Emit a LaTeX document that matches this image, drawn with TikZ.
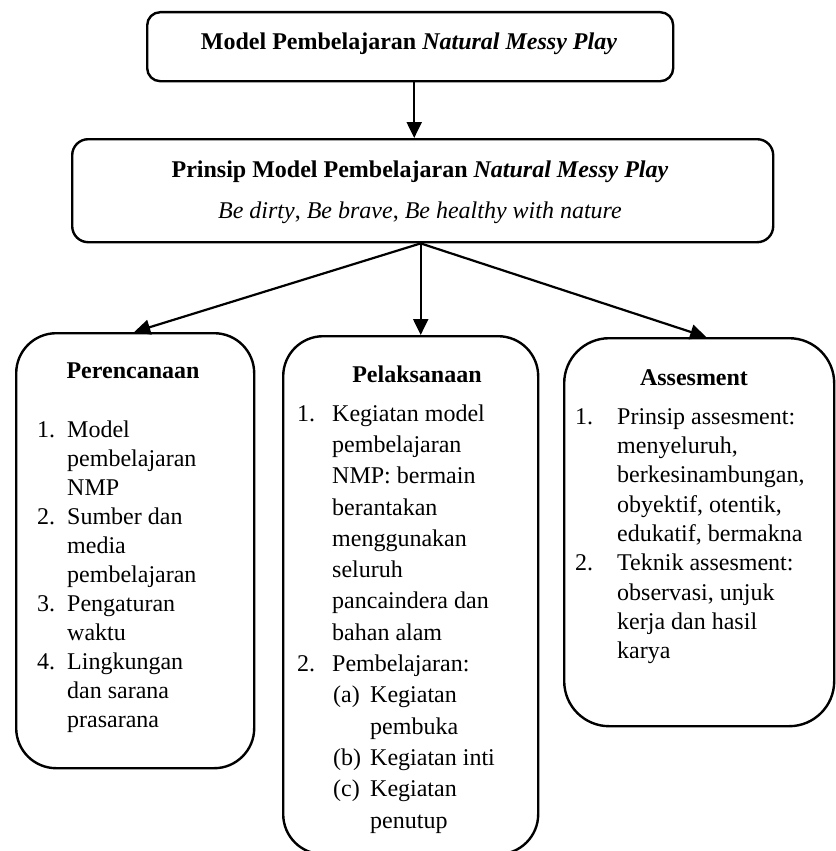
\documentclass[tikz,border=0pt]{standalone}
\usepackage{fontspec}
\setmainfont{Liberation Serif}
\usetikzlibrary{arrows.meta,calc}
\begin{document}
\begin{tikzpicture}[x=1pt,y=-1pt]
\tikzset{
  boxframe/.style={draw, line width=2.4pt, rounded corners=#1, inner sep=0pt, anchor=north west},
  arr/.style={line width=2.2pt, -{Triangle[length=16pt,width=15pt]}},
  txt/.style={inner sep=0pt, font=\fontsize{24}{29.3}\selectfont},
  ttl/.style={inner sep=0pt, anchor=base, font=\fontsize{24}{29.3}\selectfont\bfseries},
  lst/.style={inner sep=0pt, align=left, anchor=north west, font=\fontsize{24}{#1}\selectfont},
}
\useasboundingbox (0,0) rectangle (835,851);

% boxes
\node[boxframe=13pt, minimum width=526pt, minimum height=69pt] (top) at (146,11) {};
\node[boxframe=16pt, minimum width=701pt, minimum height=103pt] (prin) at (71,138) {};
\node[boxframe=40pt, minimum width=238pt, minimum height=435pt] (per) at (15,332) {};
\node[boxframe=40pt, minimum width=255pt, minimum height=518pt] (pel) at (282,335) {};
\node[boxframe=45pt, minimum width=270pt, minimum height=388pt] (ass) at (563,337) {};

% texts
\node[ttl] (toptext) at (409,50) {Model Pembelajaran \textit{Natural Messy Play}};
\node[ttl] (printitle) at (420,177) {Prinsip Model Pembelajaran \textit{Natural Messy Play}};
\node[txt, anchor=base] (motto) at (420,218) {\textit{Be dirty}, \textit{Be brave}, \textit{Be healthy with nature}};

\node[ttl] (pertitle) at (133,378) {Perencanaan};
\node[ttl] (peltitle) at (417,382) {Pelaksanaan};
\node[ttl] (asstitle) at (694,385) {Assesment};

\node[lst=29] (perlist) at (37,416.5) {\strut\makebox[30pt][l]{1.}Model\\
\hspace*{30pt}pembelajaran\\
\hspace*{30pt}NMP\\
\makebox[30pt][l]{2.}Sumber dan\\
\hspace*{30pt}media\\
\hspace*{30pt}pembelajaran\\
\makebox[30pt][l]{3.}Pengaturan\\
\hspace*{30pt}waktu\\
\makebox[30pt][l]{4.}Lingkungan\\
\hspace*{30pt}dan sarana\\
\hspace*{30pt}prasarana};

\node[lst=31.3] (pellist) at (297,399) {\strut\makebox[35pt][l]{1.}Kegiatan model\\
\hspace*{35pt}pembelajaran\\
\hspace*{35pt}NMP: bermain\\
\hspace*{35pt}berantakan\\
\hspace*{35pt}menggunakan\\
\hspace*{35pt}seluruh\\
\hspace*{35pt}pancaindera dan\\
\hspace*{35pt}bahan alam\\
\makebox[35pt][l]{2.}Pembelajaran:\\
\hspace*{36pt}\makebox[37pt][l]{(a)}Kegiatan\\
\hspace*{73pt}pembuka\\
\hspace*{36pt}\makebox[37pt][l]{(b)}Kegiatan inti\\
\hspace*{36pt}\makebox[37pt][l]{(c)}Kegiatan\\
\hspace*{73pt}penutup};

\node[lst=29.3] (asslist) at (575,403.5) {\strut\makebox[42pt][l]{1.}Prinsip assesment:\\
\hspace*{42pt}menyeluruh,\\
\hspace*{42pt}berkesinambungan,\\
\hspace*{42pt}obyektif, otentik,\\
\hspace*{42pt}edukatif, bermakna\\
\makebox[42pt][l]{2.}Teknik assesment:\\
\hspace*{42pt}observasi, unjuk\\
\hspace*{42pt}kerja dan hasil\\
\hspace*{42pt}karya};

% connectors
\draw[arr] ([xshift=4pt]top.south) -- ([xshift=4pt]top.south |- prin.north);
\coordinate (hub) at ([xshift=-2pt]prin.south);
\draw[arr] (hub) -- ([xshift=-1pt]per.north);
\draw[arr] (hub) -- (hub |- pel.north);
\draw[arr] (hub) -- ([xshift=7pt]ass.north);
\end{tikzpicture}
\end{document}
